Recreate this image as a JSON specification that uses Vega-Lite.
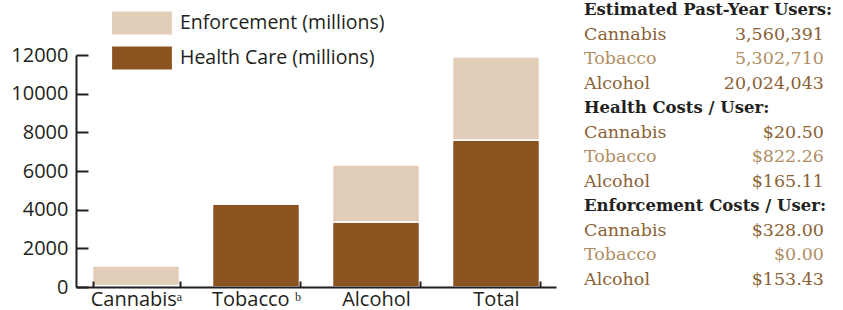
{
  "$schema": "https://vega.github.io/schema/vega-lite/v6.json",
  "padding": {"left": 10, "top": 0, "right": 5, "bottom": 0},
  "config": {"view": {"stroke": null}, "font": "Open Sans"},
  "spacing": 28,
  "resolve": {"scale": {"color": "independent"}, "legend": {"color": "independent"}},
  "hconcat": [
    {
      "width": 480,
      "height": 232,
      "data": {"values": [
        {"drug": "Cannabisᵃ", "type": "Health Care (millions)", "value": 73},
        {"drug": "Cannabisᵃ", "type": "Enforcement (millions)", "value": 1017},
        {"drug": "Tobacco ᵇ", "type": "Health Care (millions)", "value": 4290},
        {"drug": "Tobacco ᵇ", "type": "Enforcement (millions)", "value": 0},
        {"drug": "Alcohol", "type": "Health Care (millions)", "value": 3360},
        {"drug": "Alcohol", "type": "Enforcement (millions)", "value": 2950},
        {"drug": "Total", "type": "Health Care (millions)", "value": 7600},
        {"drug": "Total", "type": "Enforcement (millions)", "value": 4300}
      ]},
      "mark": {"type": "bar", "stroke": "white", "strokeWidth": 1.5},
      "encoding": {
        "x": {
          "field": "drug", "type": "nominal",
          "sort": ["Cannabisᵃ", "Tobacco ᵇ", "Alcohol", "Total"],
          "scale": {"paddingInner": 0.275, "paddingOuter": 0.1375},
          "axis": {"title": null, "labelAngle": 0, "labelFontSize": 20, "labelColor": "#231F20",
                   "domainColor": "#231F20", "domainWidth": 2, "tickColor": "#231F20", "tickWidth": 2,
                   "tickBand": "extent", "tickSize": -6, "labelPadding": 8, "zindex": 1}
        },
        "y": {
          "field": "value", "type": "quantitative", "stack": "zero",
          "scale": {"domain": [0, 12000], "nice": false},
          "axis": {"title": null, "values": [0, 2000, 4000, 6000, 8000, 10000, 12000], "format": "d",
                   "grid": false, "tickSize": -12, "tickWidth": 2, "tickColor": "#231F20",
                   "domainWidth": 2, "domainColor": "#231F20", "labelFontSize": 20,
                   "labelColor": "#231F20", "labelPadding": 20, "zindex": 1}
        },
        "color": {
          "field": "type", "type": "nominal",
          "scale": {"domain": ["Enforcement (millions)", "Health Care (millions)"], "range": ["#E2CDB9", "#8A5420"]},
          "legend": {"title": null, "orient": "none", "legendX": 43, "legendY": -55, "padding": 0,
                     "labelFontSize": 19.5, "labelColor": "#231F20", "labelFont": "Open Sans", "labelLimit": 400,
                     "symbolType": "M-1.3,-0.5H1.3V0.5H-1.3Z", "symbolSize": 2116,
                     "symbolStrokeWidth": 0, "symbolOpacity": 1, "labelOffset": 15, "rowPadding": -13}
        },
        "order": {"field": "type", "sort": "descending"}
      }
    },
    {
      "width": 240,
      "height": 270,
      "data": {"values": [
        {"row": 0, "label": "Estimated Past-Year Users:", "value": "", "kind": "header"},
        {"row": 1, "label": "Cannabis", "value": "3,560,391", "kind": "Cannabis"},
        {"row": 2, "label": "Tobacco", "value": "5,302,710", "kind": "Tobacco"},
        {"row": 3, "label": "Alcohol", "value": "20,024,043", "kind": "Alcohol"},
        {"row": 4, "label": "Health Costs / User:", "value": "", "kind": "header"},
        {"row": 5, "label": "Cannabis", "value": "$20.50", "kind": "Cannabis"},
        {"row": 6, "label": "Tobacco", "value": "$822.26", "kind": "Tobacco"},
        {"row": 7, "label": "Alcohol", "value": "$165.11", "kind": "Alcohol"},
        {"row": 8, "label": "Enforcement Costs / User:", "value": "", "kind": "header"},
        {"row": 9, "label": "Cannabis", "value": "$328.00", "kind": "Cannabis"},
        {"row": 10, "label": "Tobacco", "value": "$0.00", "kind": "Tobacco"},
        {"row": 11, "label": "Alcohol", "value": "$153.43", "kind": "Alcohol"}
      ]},
      "encoding": {
        "y": {"field": "row", "type": "ordinal", "axis": null, "scale": {"type": "point", "padding": 0}}
      },
      "layer": [
        {
          "transform": [{"filter": "datum.kind === 'header'"}],
          "mark": {"type": "text", "align": "left", "baseline": "middle", "font": "DejaVu Serif", "fontSize": 16.5, "fontWeight": "bold", "color": "#231F20", "yOffset": -45},
          "encoding": {
            "x": {"datum": "left", "scale": {"type": "point", "domain": ["left", "right"], "padding": 0}, "axis": null},
            "text": {"field": "label"}
          }
        },
        {
          "transform": [{"filter": "datum.kind !== 'header'"}],
          "mark": {"type": "text", "align": "left", "baseline": "middle", "font": "DejaVu Serif", "fontSize": 17.5, "yOffset": -45},
          "encoding": {
            "x": {"datum": "left", "scale": {"type": "point", "domain": ["left", "right"], "padding": 0}, "axis": null},
            "text": {"field": "label"},
            "color": {"field": "kind", "type": "nominal", "scale": {"domain": ["Cannabis", "Tobacco", "Alcohol"], "range": ["#8A6236", "#B08E63", "#8A6236"]}, "legend": null}
          }
        },
        {
          "transform": [{"filter": "datum.kind !== 'header'"}],
          "mark": {"type": "text", "align": "right", "baseline": "middle", "font": "DejaVu Serif", "fontSize": 17.5, "yOffset": -45},
          "encoding": {
            "x": {"datum": "right", "scale": {"type": "point", "domain": ["left", "right"], "padding": 0}, "axis": null},
            "text": {"field": "value"},
            "color": {"field": "kind", "type": "nominal", "scale": {"domain": ["Cannabis", "Tobacco", "Alcohol"], "range": ["#8A6236", "#B08E63", "#8A6236"]}, "legend": null}
          }
        }
      ]
    }
  ]
}
